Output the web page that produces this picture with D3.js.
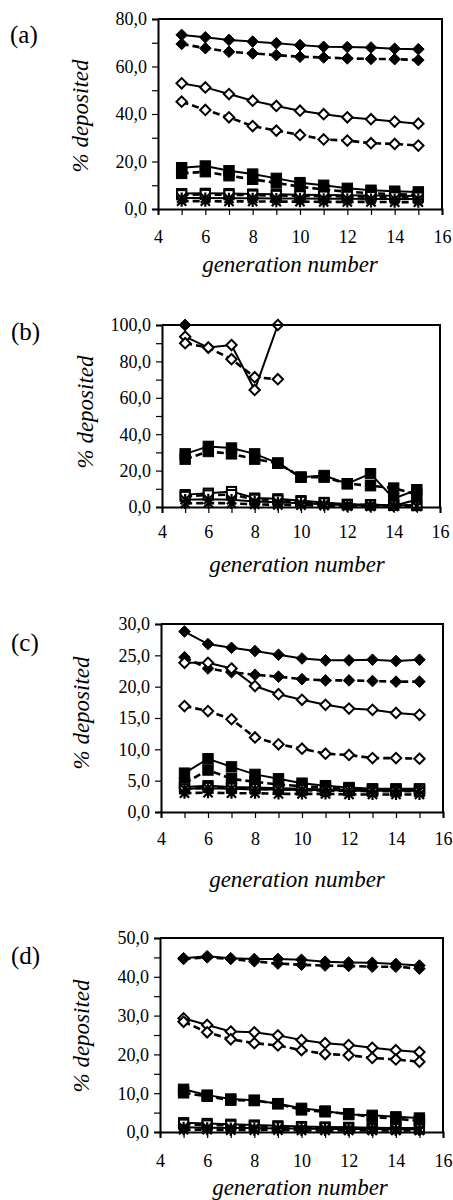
<!DOCTYPE html>
<html>
<head>
<meta charset="utf-8">
<script src="https://cdn.jsdelivr.net/npm/d3@7"></script>
<style>
  body { margin: 0; background: #fff; }
  text { font-family: "Liberation Serif", "Times New Roman", serif; fill: #000; }
</style>
</head>
<body>
<script>
// generation numbers on the x axis
var generations = [5, 6, 7, 8, 9, 10, 11, 12, 13, 14, 15];
var xTicks = [4, 6, 8, 10, 12, 14, 16];

// panel (a)
var a_fd_solid = [73.3, 72.3, 71.2, 70.5, 69.8, 69.0, 68.3, 68.2, 68.0, 67.5, 67.3];
var a_fd_dash  = [69.5, 67.7, 66.2, 65.5, 64.8, 64.1, 63.8, 63.4, 63.2, 63.1, 62.7];
var a_od_solid = [52.9, 51.2, 48.4, 45.6, 43.4, 41.4, 39.9, 38.6, 37.8, 36.8, 35.9];
var a_od_dash  = [45.2, 41.7, 38.6, 34.9, 33.0, 31.2, 29.3, 28.8, 27.7, 27.4, 26.7];
var a_fs_solid = [17.4, 18.1, 16.1, 14.7, 12.9, 11.1, 10.0, 8.7, 7.9, 7.5, 7.2];
var a_fs_dash  = [15.0, 15.7, 14.0, 12.5, 11.0, 9.4, 8.2, 7.3, 6.6, 6.3, 5.9];
var a_os_solid = [6.5, 6.6, 6.5, 6.3, 6.2, 6.0, 5.9, 5.8, 5.7, 5.6, 5.5];
var a_os_dash  = [6.0, 6.1, 6.0, 5.8, 5.7, 5.5, 5.4, 5.3, 5.2, 5.1, 5.0];
var a_as_solid = [4.6, 4.6, 4.5, 4.5, 4.4, 4.4, 4.3, 4.3, 4.2, 4.2, 4.2];
var a_as_dash  = [3.3, 3.3, 3.2, 3.2, 3.1, 3.1, 3.0, 3.0, 3.0, 2.9, 2.9];

// panel (b)
var b_fd_solid = [100];
var b_fd_dash  = [100];
var b_od_solid = [93.6, 87.6, 89.0, 64.3, 100];
var b_od_dash  = [90.0, 87.6, 81.2, 71.3, 70.2];
var b_fs_solid = [29.2, 33.3, 32.4, 29.2, 24.1, 16.4, 17.3, 12.8, 18.3, 4.6, 9.5];
var b_fs_dash  = [26.3, 30.5, 29.2, 26.3, 24.1, 16.4, 16.4, 12.8, 11.7, 10.4, 6.8];
var b_os_solid = [6.8, 7.6, 8.5, 4.9, 4.5, 3.5, 2.5, 1.5, 1.3, 1.0, 1.0];
var b_os_dash  = [5.8, 6.6, 6.8, 4.2, 3.8, 3.0, 2.2, 1.3, 1.1, 0.9, 0.8];
var b_as_solid = [4.0, 4.2, 4.0, 3.0, 2.6, 2.0, 1.5, 1.0, 0.8, 0.7, 4.0];
var b_as_dash  = [2.0, 2.2, 2.0, 1.5, 1.2, 1.0, 0.8, 0.5, 0.4, 0.4, 0.4];

// panel (c)
var c_fd_solid = [28.8, 26.8, 26.2, 25.7, 25.1, 24.5, 24.2, 24.2, 24.3, 24.1, 24.3];
var c_fd_dash  = [24.7, 22.9, 22.3, 21.9, 21.6, 21.2, 21.0, 21.0, 20.9, 20.8, 20.8];
var c_od_solid = [23.8, 23.8, 22.9, 20.1, 18.8, 17.9, 17.1, 16.5, 16.3, 15.8, 15.5];
var c_od_dash  = [16.9, 16.1, 14.8, 11.9, 10.8, 10.1, 9.3, 9.1, 8.6, 8.6, 8.5];
var c_fs_solid = [6.2, 8.5, 7.2, 6.0, 5.3, 4.6, 4.2, 3.9, 3.7, 3.7, 3.7];
var c_fs_dash  = [4.6, 6.7, 5.3, 4.8, 4.4, 4.1, 3.9, 3.8, 3.6, 3.5, 3.5];
var c_os_solid = [4.0, 4.2, 4.0, 3.9, 3.8, 3.7, 3.6, 3.6, 3.5, 3.5, 3.5];
var c_os_dash  = [3.7, 3.9, 3.8, 3.7, 3.6, 3.5, 3.4, 3.4, 3.3, 3.3, 3.3];
var c_as_solid = [3.7, 3.8, 3.7, 3.6, 3.6, 3.5, 3.5, 3.4, 3.4, 3.4, 3.4];
var c_as_dash  = [3.0, 3.1, 3.0, 3.0, 2.9, 2.9, 2.9, 2.8, 2.8, 2.8, 2.8];

// panel (d)
var d_fd_solid = [44.8, 45.3, 44.8, 44.6, 44.6, 44.4, 43.9, 43.7, 43.6, 43.3, 42.9];
var d_fd_dash  = [44.6, 45.0, 44.6, 44.0, 43.4, 43.1, 42.9, 42.8, 42.6, 42.6, 42.1];
var d_od_solid = [29.3, 27.6, 25.9, 25.7, 24.9, 23.7, 22.9, 22.4, 21.7, 21.1, 20.6];
var d_od_dash  = [28.4, 25.7, 23.9, 22.9, 22.3, 21.1, 20.1, 19.8, 19.1, 18.7, 18.1];
var d_fs_solid = [11.0, 9.5, 8.5, 8.2, 7.3, 6.1, 5.4, 4.5, 4.3, 3.9, 3.6];
var d_fs_dash  = [10.1, 9.2, 8.2, 8.1, 7.3, 5.7, 5.2, 4.7, 3.9, 3.4, 2.9];
var d_os_solid = [2.4, 2.2, 2.0, 1.8, 1.6, 1.4, 1.3, 1.2, 1.1, 1.0, 1.0];
var d_os_dash  = [2.0, 1.8, 1.7, 1.5, 1.3, 1.2, 1.1, 1.0, 0.9, 0.9, 0.8];
var d_as_solid = [1.2, 1.1, 1.0, 1.0, 0.9, 0.9, 0.8, 0.8, 0.8, 0.7, 0.7];
var d_as_dash  = [0.6, 0.6, 0.5, 0.5, 0.5, 0.4, 0.4, 0.4, 0.4, 0.4, 0.4];

// marker / line style per series (same order in every panel)
var seriesStyles = [
    {marker: "fdiamond", dashed: false},
    {marker: "fdiamond", dashed: true},
    {marker: "odiamond", dashed: false},
    {marker: "odiamond", dashed: true},
    {marker: "fsquare",  dashed: false},
    {marker: "fsquare",  dashed: true},
    {marker: "osquare",  dashed: false},
    {marker: "osquare",  dashed: true},
    {marker: "aster",    dashed: false},
    {marker: "aster",    dashed: true}
];

var panels = [
    {label: "(a)", lx: 10, ly: 43, x0: 158, x1: 442, yt: 19, yb: 209, ymax: 80, major: 20, minor: 10,
     tickY: 243, titleY: 272, titleX: 290, ytX: 88, ytY: 116,
     series: [a_fd_solid, a_fd_dash, a_od_solid, a_od_dash, a_fs_solid, a_fs_dash, a_os_solid, a_os_dash, a_as_solid, a_as_dash]},
    {label: "(b)", lx: 11, ly: 340, x0: 162, x1: 440, yt: 325, yb: 507, ymax: 100, major: 20, minor: 10,
     tickY: 538, titleY: 572, titleX: 297, ytX: 93, ytY: 412,
     series: [b_fd_solid, b_fd_dash, b_od_solid, b_od_dash, b_fs_solid, b_fs_dash, b_os_solid, b_os_dash, b_as_solid, b_as_dash]},
    {label: "(c)", lx: 11, ly: 651, x0: 161, x1: 443, yt: 624, yb: 812, ymax: 30, major: 5, minor: 5,
     tickY: 845, titleY: 887, titleX: 297, ytX: 89, ytY: 713,
     series: [c_fd_solid, c_fd_dash, c_od_solid, c_od_dash, c_fs_solid, c_fs_dash, c_os_solid, c_os_dash, c_as_solid, c_as_dash]},
    {label: "(d)", lx: 11, ly: 964, x0: 160, x1: 443, yt: 938, yb: 1132, ymax: 50, major: 10, minor: 5,
     tickY: 1167, titleY: 1195, titleX: 300, ytX: 89, ytY: 1036,
     series: [d_fd_solid, d_fd_dash, d_od_solid, d_od_dash, d_fs_solid, d_fs_dash, d_os_solid, d_os_dash, d_as_solid, d_as_dash]}
];

var fmt = d3.formatLocale({decimal: ",", thousands: ".", grouping: [3], currency: ["", ""]}).format(".1f");

var svg = d3.select("body").append("svg")
    .attr("width", 453)
    .attr("height", 1200);

function drawMarker(g, type, cx, cy) {
    if (type === "fdiamond" || type === "odiamond") {
        var r = type === "fdiamond" ? 5.8 : 5.2;
        g.append("path")
            .attr("d", "M" + cx + "," + (cy - r) + "L" + (cx + r) + "," + cy +
                       "L" + cx + "," + (cy + r) + "L" + (cx - r) + "," + cy + "Z")
            .attr("fill", type === "fdiamond" ? "#000" : "#fff")
            .attr("stroke", "#000")
            .attr("stroke-width", type === "fdiamond" ? 1 : 2);
    } else if (type === "fsquare" || type === "osquare") {
        var h = type === "fsquare" ? 5.2 : 4.6;
        g.append("rect")
            .attr("x", cx - h).attr("y", cy - h)
            .attr("width", 2 * h).attr("height", 2 * h)
            .attr("fill", type === "fsquare" ? "#000" : "#fff")
            .attr("stroke", "#000")
            .attr("stroke-width", type === "fsquare" ? 1 : 2);
    } else {
        var s = 4.6;
        var p = "M" + (cx - s) + "," + (cy - s) + "L" + (cx + s) + "," + (cy + s) +
                "M" + (cx - s) + "," + (cy + s) + "L" + (cx + s) + "," + (cy - s) +
                "M" + cx + "," + (cy - s - 1) + "L" + cx + "," + (cy + s + 1);
        g.append("path").attr("d", p).attr("stroke", "#000").attr("stroke-width", 2.2).attr("fill", "none");
    }
}

panels.forEach(function (p) {
    var x = d3.scaleLinear().domain([4, 16]).range([p.x0, p.x1]);
    var y = d3.scaleLinear().domain([0, p.ymax]).range([p.yb, p.yt]);
    var g = svg.append("g");

    // panel label
    g.append("text").attr("x", p.lx).attr("y", p.ly)
        .style("font-size", "25px").text(p.label);

    // series: line then markers
    p.series.forEach(function (vals, i) {
        var st = seriesStyles[i];
        var pts = vals.map(function (v, j) { return [generations[j], v]; });
        var line = d3.line().x(function (d) { return x(d[0]); }).y(function (d) { return y(d[1]); });
        if (pts.length > 1) {
            g.append("path")
                .attr("d", line(pts))
                .attr("fill", "none")
                .attr("stroke", "#000")
                .attr("stroke-width", st.dashed ? 2.6 : 2)
                .attr("stroke-dasharray", st.dashed ? "7,4" : null);
        }
        pts.forEach(function (d) { drawMarker(g, st.marker, x(d[0]), y(d[1])); });
    });

    // plot frame: top and right border
    g.append("path")
        .attr("d", "M" + p.x0 + "," + p.yt + "H" + p.x1 + "V" + p.yb)
        .attr("fill", "none").attr("stroke", "#000").attr("stroke-width", 2);

    // y axis
    var yMinor = d3.range(0, p.ymax + 0.001, p.minor);
    var yAxis = d3.axisLeft(y).tickValues(yMinor).tickSize(6).tickFormat(function (d) {
        return (Math.abs(d % p.major) < 1e-6) ? fmt(d) : "";
    });
    var ya = g.append("g").attr("transform", "translate(" + p.x0 + ",0)").call(yAxis);
    ya.select(".domain").attr("stroke-width", 2);
    ya.selectAll(".tick line").attr("stroke-width", 1.2);
    ya.selectAll("text").style("font-size", "18px").attr("x", -11).attr("dy", "0.33em")
        .style("font-family", "Liberation Serif");

    // x axis
    var xAxis = d3.axisBottom(x).tickValues(d3.range(4, 17, 1)).tickSize(6).tickFormat(function (d) {
        return xTicks.indexOf(d) >= 0 ? d : "";
    });
    var xa = g.append("g").attr("transform", "translate(0," + p.yb + ")").call(xAxis);
    xa.select(".domain").attr("stroke-width", 2);
    xa.selectAll(".tick line").attr("stroke-width", 1.2);
    xa.selectAll("text").style("font-size", "18px").attr("y", p.tickY - p.yb).attr("dy", 0)
        .style("font-family", "Liberation Serif");

    // axis titles
    g.append("text").attr("x", p.titleX).attr("y", p.titleY)
        .attr("text-anchor", "middle").style("font-size", "23px").style("font-style", "italic")
        .text("generation number");
    g.append("text")
        .attr("transform", "translate(" + p.ytX + "," + p.ytY + ") rotate(-90)")
        .attr("text-anchor", "middle").style("font-size", "23px").style("font-style", "italic")
        .text("% deposited");
});
</script>
</body>
</html>
